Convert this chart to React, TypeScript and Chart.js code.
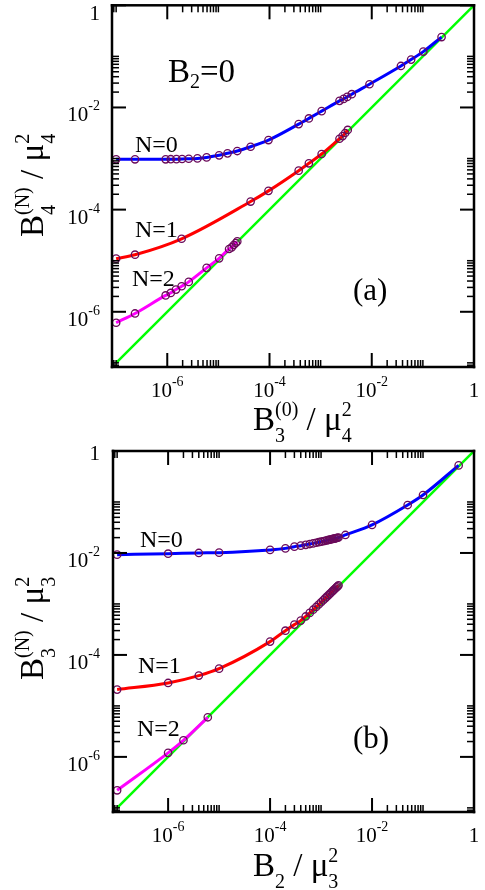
import React, { useEffect, useRef } from 'react';
import { Chart, registerables } from 'chart.js';
Chart.register(...registerables);

const FONT = "'Liberation Serif', 'Times New Roman', serif";
const AXIS_MIN = 8.3e-8;
const AXIS_MAX = 1;

// ---------- Panel (a): B2 = 0 ----------
const aN0X = [1e-7, 2.34e-7, 9.3e-7, 1.17e-6, 1.51e-6, 1.95e-6, 2.63e-6, 3.89e-6, 5.89e-6, 1.035e-5, 1.51e-5, 2.34e-5, 4.27e-5, 9.55e-5, 3.72e-4, 5.89e-4, 1.047e-3, 2.34e-3, 2.82e-3, 3.31e-3, 4.07e-3, 9.02e-3, 3.72e-2, 5.89e-2, 0.102, 0.232];
const aN0Y = [9.66e-4, 9.66e-4, 9.66e-4, 9.7e-4, 9.73e-4, 9.79e-4, 9.91e-4, 1.007e-3, 1.052e-3, 1.156e-3, 1.265e-3, 1.403e-3, 1.702e-3, 2.301e-3, 4.72e-3, 6.1e-3, 8.47e-3, 1.346e-2, 1.472e-2, 1.611e-2, 1.82e-2, 2.85e-2, 6.49e-2, 8.65e-2, 0.124, 0.239];
const aN1X = [1e-7, 2.34e-7, 1.91e-6, 4.27e-5, 9.55e-5, 3.72e-4, 5.89e-4, 1.047e-3, 2.34e-3, 2.69e-3, 3.02e-3, 3.39e-3];
const aN1Y = [1.096e-5, 1.312e-5, 2.69e-5, 1.439e-4, 2.33e-4, 5.79e-4, 8.07e-4, 1.227e-3, 2.44e-3, 2.75e-3, 3.16e-3, 3.63e-3];
const aN2X = [1e-7, 2.34e-7, 9.3e-7, 1.17e-6, 1.48e-6, 1.91e-6, 2.63e-6, 5.89e-6, 1.035e-5, 1.62e-5, 1.82e-5, 2.0e-5, 2.19e-5, 2.34e-5];
const aN2Y = [6.1e-7, 9.27e-7, 2.09e-6, 2.34e-6, 2.72e-6, 3.16e-6, 3.85e-6, 7.24e-6, 1.112e-5, 1.694e-5, 1.82e-5, 2.03e-5, 2.22e-5, 2.39e-5];

// ---------- Panel (b) ----------
const bN0X = [1e-7, 1e-6, 4e-6, 1e-5, 1e-4, 2e-4, 3e-4, 4e-4, 5e-4, 6e-4, 7e-4, 8e-4, 9e-4, 1e-3, 1.1e-3, 1.2e-3, 1.3e-3, 1.4e-3, 1.5e-3, 1.6e-3, 1.7e-3, 1.8e-3, 1.9e-3, 2.0e-3, 2.1e-3, 2.2e-3, 3e-3, 1e-2, 5e-2, 0.1, 0.5];
const bN0Y = [9.27e-3, 9.68e-3, 1.0e-2, 1.014e-2, 1.148e-2, 1.23e-2, 1.33e-2, 1.39e-2, 1.445e-2, 1.496e-2, 1.542e-2, 1.585e-2, 1.626e-2, 1.663e-2, 1.698e-2, 1.734e-2, 1.766e-2, 1.799e-2, 1.828e-2, 1.858e-2, 1.884e-2, 1.91e-2, 1.936e-2, 1.963e-2, 1.986e-2, 2.009e-2, 2.254e-2, 3.55e-2, 8.71e-2, 0.137, 0.522];
const bN1X = [1e-7, 1e-6, 4e-6, 1e-5, 1e-4, 2e-4, 3e-4, 4e-4, 5e-4, 6e-4, 7e-4, 8e-4, 9e-4, 1e-3, 1.1e-3, 1.2e-3, 1.3e-3, 1.4e-3, 1.5e-3, 1.6e-3, 1.7e-3, 1.8e-3, 1.9e-3, 2.0e-3, 2.1e-3, 2.2e-3];
const bN1Y = [2.09e-5, 2.82e-5, 3.93e-5, 5.38e-5, 1.824e-4, 2.99e-4, 3.93e-4, 4.71e-4, 5.68e-4, 6.68e-4, 7.71e-4, 8.73e-4, 9.75e-4, 1.079e-3, 1.18e-3, 1.285e-3, 1.39e-3, 1.493e-3, 1.596e-3, 1.698e-3, 1.799e-3, 1.905e-3, 2.009e-3, 2.113e-3, 2.213e-3, 2.317e-3];
const bN2X = [1e-7, 1e-6, 2e-6, 6e-6];
const bN2Y = [2.21e-7, 1.2e-6, 2.12e-6, 5.98e-6];

// y = x reference line
const diagX = [1e-7, 1];
const diagY = [1e-7, 1];

// ticks
const majorTicks = [1e-6, 1e-4, 1e-2, 1];
const majorExponents = ['-6', '-4', '-2', ''];
const minorDecades = [1e-8, 1e-6, 1e-4, 1e-2];
const minorMultipliers = [2, 3, 4, 5, 6, 7, 8, 9, 10];

const MARKER = '#6a0a5a';

type Seg = { t: string; sub?: string; sup?: string };
type Label = { segs: Seg[]; x: number; y: number; size: number; ssize?: number; subDy?: number; supDy?: number };

function richWidth(ctx: CanvasRenderingContext2D, segs: Seg[], size: number, ssize: number) {
  let w = 0;
  for (const s of segs) {
    ctx.font = `${size}px ${FONT}`;
    w += ctx.measureText(s.t).width;
    ctx.font = `${ssize}px ${FONT}`;
    w += Math.max(s.sub ? ctx.measureText(s.sub).width : 0, s.sup ? ctx.measureText(s.sup).width : 0);
  }
  return w;
}

function drawRich(ctx: CanvasRenderingContext2D, segs: Seg[], x: number, y: number, size: number, ssize: number, subDy: number, supDy: number) {
  ctx.textBaseline = 'alphabetic';
  ctx.textAlign = 'left';
  ctx.fillStyle = '#000';
  let cx = x;
  for (const s of segs) {
    ctx.font = `${size}px ${FONT}`;
    ctx.fillText(s.t, cx, y);
    cx += ctx.measureText(s.t).width;
    ctx.font = `${ssize}px ${FONT}`;
    let sw = 0;
    if (s.sub) { ctx.fillText(s.sub, cx, y + subDy); sw = Math.max(sw, ctx.measureText(s.sub).width); }
    if (s.sup) { ctx.fillText(s.sup, cx, y + supDy); sw = Math.max(sw, ctx.measureText(s.sup).width); }
    cx += sw;
  }
}

type PanelCfg = {
  top: number;
  padding: { left: number; top: number; right: number; bottom: number };
  series: { x: number[]; y: number[]; color: string }[];
  xTitle: Seg[];
  yTitle: Seg[];
  xTitleX: number;
  xTitleY: number;
  yTitleBaseX: number;
  yTitleStartY: number;
  oneDy: number;
  labels: Label[];
};

function makeDecor(cfg: PanelCfg) {
  return {
    id: 'decor',
    afterDraw(chart: any) {
      const ctx: CanvasRenderingContext2D = chart.ctx;
      const { left, right, top, bottom } = chart.chartArea;
      const xs = chart.scales.x;
      const ys = chart.scales.y;
      ctx.save();
      ctx.fillStyle = '#000';
      const tickSet = (v: number, len: number, w: number) => {
        const px = xs.getPixelForValue(v);
        const py = ys.getPixelForValue(v);
        ctx.fillRect(px - w / 2, bottom - len, w, len);
        ctx.fillRect(px - w / 2, top, w, len);
        ctx.fillRect(left, py - w / 2, len, w);
        ctx.fillRect(right - len, py - w / 2, len, w);
      };
      for (const d of minorDecades) {
        for (const m of minorMultipliers) {
          const v = d * m;
          if (v < AXIS_MIN || v > AXIS_MAX) continue;
          tickSet(v, 7, 1.5);
        }
      }
      for (const v of majorTicks) tickSet(v, 14, 2);
      // frame
      const fw = 2.5;
      ctx.fillRect(left - fw / 2, top - fw / 2, right - left + fw, fw);
      ctx.fillRect(left - fw / 2, bottom - fw / 2, right - left + fw, fw);
      ctx.fillRect(left - fw / 2, top - fw / 2, fw, bottom - top + fw);
      ctx.fillRect(right - fw / 2, top - fw / 2, fw, bottom - top + fw);

      // tick labels
      majorTicks.forEach((v, i) => {
        const e = majorExponents[i];
        const segs: Seg[] = e ? [{ t: '10', sup: e }] : [{ t: '1' }];
        const w = richWidth(ctx, segs, 21, 14);
        const px = xs.getPixelForValue(v);
        drawRich(ctx, segs, px - w / 2, bottom + 30, 21, 14, 0, -11);
        const py = ys.getPixelForValue(v);
        const dy = e ? 14 : cfg.oneDy;
        drawRich(ctx, segs, 100 - w, py + dy, 21, 14, 0, -11);
      });

      // axis titles
      drawRich(ctx, cfg.xTitle, cfg.xTitleX, cfg.xTitleY, 33, 20, 12, -14);
      ctx.save();
      ctx.translate(cfg.yTitleBaseX, cfg.yTitleStartY);
      ctx.rotate(-Math.PI / 2);
      drawRich(ctx, cfg.yTitle, 0, 0, 33, 20, 12, -14);
      ctx.restore();

      // annotations
      for (const l of cfg.labels) {
        drawRich(ctx, l.segs, l.x, l.y, l.size, l.ssize ?? 20, l.subDy ?? 12, l.supDy ?? -14);
      }
      ctx.restore();
    },
  };
}

const fixRange = (s: any) => { s.min = AXIS_MIN; s.max = AXIS_MAX; };

function Panel({ cfg }: { cfg: PanelCfg }) {
  const ref = useRef<HTMLCanvasElement>(null);
  useEffect(() => {
    if (!ref.current) return;
    const datasets: any[] = cfg.series.map((s) => ({
      data: s.x.map((x, i) => ({ x, y: s.y[i] })),
      borderColor: s.color,
      borderWidth: 3,
      cubicInterpolationMode: 'monotone',
      pointStyle: 'circle',
      pointRadius: 3.7,
      pointBorderWidth: 1.3,
      pointBorderColor: MARKER,
      pointBackgroundColor: 'rgba(0,0,0,0)',
      order: 1,
    }));
    datasets.push({
      data: diagX.map((x, i) => ({ x, y: diagY[i] })),
      borderColor: '#00ff00',
      borderWidth: 2.5,
      pointRadius: 0,
      order: 10,
    });
    const chart = new Chart(ref.current, {
      type: 'line',
      data: { datasets },
      options: {
        animation: false,
        responsive: false,
        devicePixelRatio: 1,
        events: [],
        layout: { padding: cfg.padding },
        plugins: { legend: { display: false }, tooltip: { enabled: false } },
        scales: {
          x: { type: 'logarithmic', display: false, min: AXIS_MIN, max: AXIS_MAX, afterBuildTicks: fixRange },
          y: { type: 'logarithmic', display: false, min: AXIS_MIN, max: AXIS_MAX, afterBuildTicks: fixRange },
        },
      } as any,
      plugins: [makeDecor(cfg)],
    });
    return () => chart.destroy();
  }, [cfg]);
  return (
    <canvas
      ref={ref}
      width={485}
      height={445}
      style={{ position: 'absolute', left: 0, top: cfg.top, width: 485, height: 445, display: 'block' }}
    />
  );
}

const panelA: PanelCfg = {
  top: 0,
  padding: { left: 112, top: 5, right: 11, bottom: 78 },
  series: [
    { x: aN0X, y: aN0Y, color: '#0000ff' },
    { x: aN1X, y: aN1Y, color: '#ff0000' },
    { x: aN2X, y: aN2Y, color: '#ff00ff' },
  ],
  xTitle: [{ t: 'B', sub: '3', sup: '(0)' }, { t: ' / ' }, { t: 'μ', sub: '4', sup: '2' }],
  yTitle: [{ t: 'B', sub: '4', sup: '(N)' }, { t: ' / ' }, { t: 'μ', sub: '4', sup: '2' }],
  xTitleX: 253,
  xTitleY: 430,
  yTitleBaseX: 43,
  yTitleStartY: 237,
  oneDy: 15,
  labels: [
    { segs: [{ t: 'B', sub: '2' }, { t: '=0' }], x: 168, y: 82, size: 33, ssize: 20, subDy: 6 },
    { segs: [{ t: 'N=0' }], x: 135, y: 152, size: 24 },
    { segs: [{ t: 'N=1' }], x: 135, y: 237, size: 24 },
    { segs: [{ t: 'N=2' }], x: 132, y: 286, size: 24 },
    { segs: [{ t: '(a)' }], x: 353, y: 300, size: 31 },
  ],
};

const panelB: PanelCfg = {
  top: 445,
  padding: { left: 113, top: 6, right: 11, bottom: 78 },
  series: [
    { x: bN0X, y: bN0Y, color: '#0000ff' },
    { x: bN1X, y: bN1Y, color: '#ff0000' },
    { x: bN2X, y: bN2Y, color: '#ff00ff' },
  ],
  xTitle: [{ t: 'B', sub: '2' }, { t: ' / ' }, { t: 'μ', sub: '3', sup: '2' }],
  yTitle: [{ t: 'B', sub: '3', sup: '(N)' }, { t: ' / ' }, { t: 'μ', sub: '3', sup: '2' }],
  xTitleX: 253,
  xTitleY: 431,
  yTitleBaseX: 43,
  yTitleStartY: 235,
  oneDy: 9,
  labels: [
    { segs: [{ t: 'N=0' }], x: 140, y: 102, size: 24 },
    { segs: [{ t: 'N=1' }], x: 138, y: 228, size: 24 },
    { segs: [{ t: 'N=2' }], x: 137, y: 291, size: 24 },
    { segs: [{ t: '(b)' }], x: 353, y: 303, size: 31 },
  ],
};

export default function App() {
  return (
    <div style={{ position: 'absolute', left: 0, top: 0, width: 485, height: 890, background: '#fff' }}>
      <Panel cfg={panelA} />
      <Panel cfg={panelB} />
    </div>
  );
}
